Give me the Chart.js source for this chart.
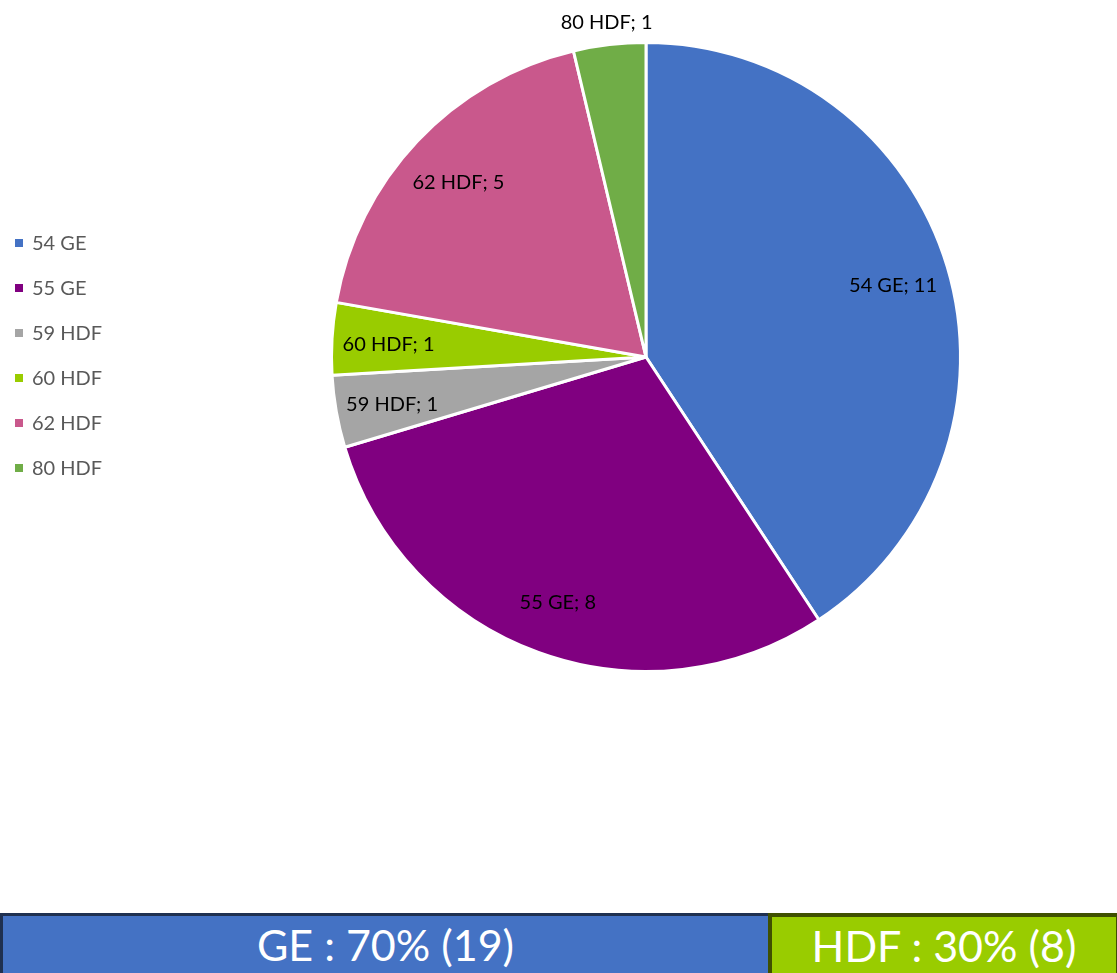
<!DOCTYPE html>
<html>
<head>
<meta charset="utf-8">
<script src="https://cdn.jsdelivr.net/npm/chart.js@4"></script>
<style>
  html, body { margin: 0; padding: 0; background: #fff; }
  body { width: 1117px; height: 973px; position: relative; overflow: hidden; font-family: Lato, "Open Sans", sans-serif; }
  #wrap { position: absolute; left: 0; top: 0; width: 1117px; height: 973px; }
  .box {
    position: absolute; top: 913px; height: 66px; box-sizing: border-box;
    color: #fff; font-size: 43px; text-align: center; line-height: 58px;
  }
  #ge { left: 0; width: 771px; background: #4472C4; border: 3px solid #1F3050; }
  #hdf { left: 768px; width: 352px; background: #99CC00; border: 4px solid #3F5000; }
</style>
</head>
<body>
<div id="wrap"><canvas id="pie"></canvas></div>
<div class="box" id="ge"></div>
<div class="box" id="hdf"></div>
<script>
const labels = ["54 GE", "55 GE", "59 HDF", "60 HDF", "62 HDF", "80 HDF"];
const values = [11, 8, 1, 1, 5, 1];
const colors = ["#4472C4", "#800080", "#A5A5A5", "#99CC00", "#C9588C", "#70AD47"];
const groups = ["GE", "HDF"];
const groupCounts = [19, 8];

const total = groupCounts.reduce((a, b) => a + b, 0);
document.getElementById("ge").textContent = `${groups[0]} : ${Math.round(groupCounts[0] / total * 100)}% (${groupCounts[0]})`;
document.getElementById("hdf").textContent = `${groups[1]} : ${Math.round(groupCounts[1] / total * 100)}% (${groupCounts[1]})`;

// labels inside slices + legend on the left
const sliceLabels = {
  id: "sliceLabels",
  afterDraw(chart) {
    const ctx = chart.ctx;
    const meta = chart.getDatasetMeta(0);
    ctx.save();
    ctx.font = "20px Lato";
    ctx.textAlign = "center";
    ctx.textBaseline = "middle";
    ctx.fillStyle = "#000";
    meta.data.forEach((arc, i) => {
      const mid = (arc.startAngle + arc.endAngle) / 2;
      let r = arc.outerRadius * 0.82;
      if (i === meta.data.length - 1) r = arc.outerRadius + 25;
      const x = arc.x + Math.cos(mid) * r;
      const y = arc.y + Math.sin(mid) * r + 3;
      ctx.fillText(`${labels[i]}; ${values[i]}`, x, y);
    });

    // legend
    ctx.textAlign = "left";
    labels.forEach((lab, i) => {
      const y = 243 + i * 45;
      ctx.fillStyle = colors[i];
      ctx.fillRect(15, y - 4, 8, 8);
      ctx.fillStyle = "#595959";
      ctx.fillText(lab, 32, y + 1);
    });
    ctx.restore();
  }
};

new Chart(document.getElementById("pie"), {
  type: "pie",
  data: {
    labels,
    datasets: [{
      data: values,
      backgroundColor: colors,
      borderColor: "#fff",
      borderWidth: 3
    }]
  },
  options: {
    responsive: true,
    maintainAspectRatio: false,
    animation: false,
    layout: { padding: { left: 330, right: 155, top: 41, bottom: 300 } },
    plugins: { legend: { display: false }, tooltip: { enabled: false } }
  },
  plugins: [sliceLabels]
});
</script>
</body>
</html>
